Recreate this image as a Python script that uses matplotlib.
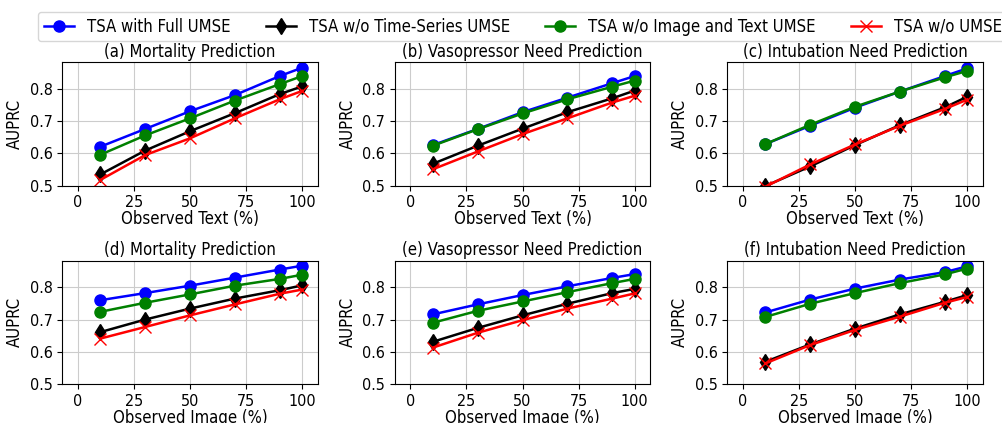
import matplotlib
matplotlib.use("Agg")
import matplotlib.pyplot as plt
from matplotlib import font_manager

# pourcentage observé (axe x commun)
x_obs = [10, 30, 50, 70, 90, 100]

series_names = ["TSA with Full UMSE", "TSA w/o Time-Series UMSE",
                "TSA w/o Image and Text UMSE", "TSA w/o UMSE"]

titles = ["(a) Mortality Prediction", "(b) Vasopressor Need Prediction",
          "(c) Intubation Need Prediction", "(d) Mortality Prediction",
          "(e) Vasopressor Need Prediction", "(f) Intubation Need Prediction"]
xlabels = ["Observed Text (%)"] * 3 + ["Observed Image (%)"] * 3

# valeurs AUPRC, ordre : full, sans TS, sans image+texte, sans UMSE
a_full = [0.621, 0.676, 0.731, 0.781, 0.840, 0.866]
a_nots = [0.535, 0.609, 0.669, 0.725, 0.784, 0.808]
a_noit = [0.596, 0.656, 0.709, 0.764, 0.815, 0.840]
a_none = [0.518, 0.595, 0.647, 0.709, 0.768, 0.794]

b_full = [0.626, 0.676, 0.728, 0.773, 0.818, 0.840]
b_nots = [0.568, 0.624, 0.677, 0.728, 0.771, 0.795]
b_noit = [0.624, 0.675, 0.724, 0.768, 0.807, 0.826]
b_none = [0.551, 0.606, 0.660, 0.709, 0.758, 0.779]

c_full = [0.629, 0.686, 0.742, 0.792, 0.840, 0.864]
c_nots = [0.499, 0.560, 0.626, 0.688, 0.743, 0.776]
c_noit = [0.629, 0.689, 0.745, 0.792, 0.836, 0.856]
c_none = [0.497, 0.566, 0.628, 0.686, 0.738, 0.767]

d_full = [0.760, 0.782, 0.805, 0.830, 0.855, 0.867]
d_nots = [0.661, 0.700, 0.734, 0.765, 0.791, 0.806]
d_noit = [0.724, 0.752, 0.778, 0.805, 0.826, 0.839]
d_none = [0.641, 0.677, 0.713, 0.747, 0.780, 0.793]

e_full = [0.716, 0.747, 0.776, 0.803, 0.829, 0.841]
e_nots = [0.631, 0.674, 0.713, 0.749, 0.782, 0.795]
e_noit = [0.690, 0.727, 0.756, 0.785, 0.813, 0.826]
e_none = [0.613, 0.659, 0.698, 0.734, 0.765, 0.781]

f_full = [0.722, 0.762, 0.796, 0.824, 0.847, 0.865]
f_nots = [0.569, 0.623, 0.672, 0.716, 0.755, 0.776]
f_noit = [0.708, 0.749, 0.782, 0.813, 0.840, 0.858]
f_none = [0.564, 0.621, 0.668, 0.709, 0.752, 0.770]

all_data = [
    [a_full, a_nots, a_noit, a_none],
    [b_full, b_nots, b_noit, b_none],
    [c_full, c_nots, c_noit, c_none],
    [d_full, d_nots, d_noit, d_none],
    [e_full, e_nots, e_noit, e_none],
    [f_full, f_nots, f_noit, f_none],
]

styles = [("blue", "o", 8), ("black", "d", 8), ("green", "o", 8), ("red", "x", 8)]

# police condensée si dispo (DejaVu Sans Condensed)
condensed = any("Condensed" in f.fname for f in font_manager.fontManager.ttflist
                if f.name == "DejaVu Sans")
if condensed:
    plt.rcParams["font.stretch"] = "condensed"
    fs_tick, fs_lab, fs_title, fs_leg = 11.5, 12, 12, 12
else:
    fs_tick, fs_lab, fs_title, fs_leg = 10.5, 11, 11, 11

fig, axes = plt.subplots(2, 3, figsize=(10.02, 4.23), dpi=100)
plt.subplots_adjust(left=0.062, right=0.981, top=0.853, bottom=0.092,
                     wspace=0.30, hspace=0.605)

for i, ax in enumerate(axes.flat):
    for k, vals in enumerate(all_data[i]):
        col, mk, ms = styles[k]
        ax.plot(x_obs, vals, color=col, marker=mk, markersize=ms,
                linewidth=1.8, label=series_names[k])
    ax.set_title(titles[i], fontsize=fs_title, pad=4)
    ax.set_xlabel(xlabels[i], fontsize=fs_lab, labelpad=0)
    ax.set_ylabel("AUPRC", fontsize=fs_lab)
    ax.set_xlim(-7, 107)
    ax.set_ylim(0.5, 0.883)
    ax.set_xticks([0, 25, 50, 75, 100])
    ax.set_yticks([0.5, 0.6, 0.7, 0.8])
    ax.tick_params(labelsize=fs_tick)
    ax.grid(True, color="#cccccc", linewidth=0.8)

handles, labels = axes[0, 0].get_legend_handles_labels()
fig.legend(handles, labels, loc="upper center", ncol=4,
           bbox_to_anchor=(0.522, 0.992), fontsize=fs_leg, frameon=True,
           columnspacing=2.1, handlelength=1.8, borderpad=0.35)

fig.savefig("out.png", dpi=100)
